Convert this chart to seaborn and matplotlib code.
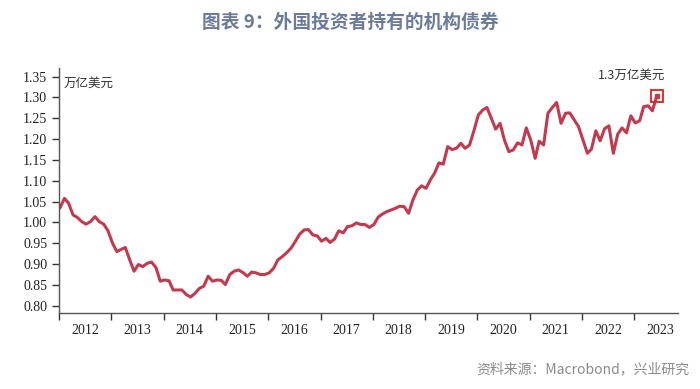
import matplotlib
matplotlib.use("Agg")
import matplotlib.pyplot as plt
import seaborn as sns
import pandas as pd

# monthly holdings, Jan 2012 - Jul 2023 (万亿美元)
holdings_2012_2017 = [
    1.035, 1.058, 1.046, 1.018, 1.012, 1.002, 0.996, 1.002, 1.014, 1.002, 0.996, 0.980,
    0.951, 0.930, 0.935, 0.940, 0.911, 0.883, 0.899, 0.894, 0.902, 0.905, 0.892, 0.859,
    0.862, 0.860, 0.838, 0.838, 0.838, 0.827, 0.821, 0.830, 0.842, 0.847, 0.871, 0.859,
    0.862, 0.861, 0.851, 0.875, 0.883, 0.886, 0.880, 0.871, 0.881, 0.879, 0.875, 0.875,
    0.879, 0.890, 0.910, 0.918, 0.927, 0.938, 0.954, 0.972, 0.982, 0.983, 0.970, 0.968,
    0.955, 0.962, 0.952, 0.960, 0.980, 0.975, 0.990,
]
holdings_2017_2023 = [
    0.992, 0.999, 0.995, 0.995, 0.988, 0.995, 1.013, 1.020, 1.026, 1.030, 1.034, 1.039,
    1.038, 1.022, 1.054, 1.078, 1.088, 1.082, 1.103, 1.118, 1.143, 1.140, 1.182, 1.175,
    1.178, 1.190, 1.178, 1.186, 1.220, 1.258, 1.270, 1.276, 1.250, 1.224, 1.238, 1.198,
    1.170, 1.174, 1.191, 1.186, 1.227, 1.198, 1.154, 1.195, 1.186, 1.262, 1.276, 1.288,
    1.238, 1.262, 1.263, 1.246, 1.230, 1.198, 1.166, 1.176, 1.220, 1.196, 1.225, 1.232,
    1.166, 1.212, 1.227, 1.215, 1.256, 1.239, 1.244, 1.278, 1.280, 1.268, 1.304,
]
values = holdings_2012_2017 + holdings_2017_2023
dates = pd.date_range("2012-01-01", periods=len(values), freq="MS") + pd.Timedelta(days=7)
df = pd.DataFrame({"date": dates, "value": values})

years = list(range(2012, 2024))
yticks = [0.80, 0.85, 0.90, 0.95, 1.00, 1.05, 1.10, 1.15, 1.20, 1.25, 1.30, 1.35]

title = "图表 9：外国投资者持有的机构债券"
unit_label = "万亿美元"
last_label = "1.3万亿美元"
source = "资料来源：Macrobond，兴业研究"

sns.set_style("ticks")
plt.rcParams["font.family"] = ["Liberation Serif", "Noto Sans CJK SC"]
cjk = ["Noto Sans CJK SC", "DejaVu Sans"]

fig = plt.figure(figsize=(7, 3.89), dpi=100)
ax = fig.add_axes([0.0843, 0.1946, 0.8843, 0.6298])

line_color = "#c23a4e"
sns.lineplot(data=df, x="date", y="value", ax=ax, color=line_color, linewidth=2.2)
last = df.iloc[-1]
ax.plot(last["date"], last["value"], marker="s", markersize=9, markerfacecolor="none",
        markeredgecolor="#e02020", markeredgewidth=1.3, zorder=5)
ax.plot(last["date"], last["value"], marker="s", markersize=2.5, color=line_color, zorder=6)

ax.set_xlim(pd.Timestamp("2012-01-01"), pd.Timestamp("2023-11-03"))
ax.set_ylim(0.782, 1.37)
ax.set_yticks(yticks)
ax.set_yticklabels([f"{v:.2f}" for v in yticks])

ax.set_xticks([pd.Timestamp(f"{y}-01-01") for y in years])
ax.set_xticklabels([])
ax.set_xticks([pd.Timestamp(f"{y}-07-01") for y in years], minor=True)
ax.set_xticklabels([str(y) for y in years], minor=True)
ax.tick_params(axis="x", which="major", length=5, width=1, color="#333333", direction="out")
ax.tick_params(axis="x", which="minor", length=0, pad=8, labelsize=10, labelcolor="#222222")
ax.tick_params(axis="y", length=5, width=1, color="#333333", labelsize=10, labelcolor="#222222")

ax.set_xlabel("")
ax.set_ylabel("")
for side in ["top", "right"]:
    ax.spines[side].set_visible(False)
for side in ["left", "bottom"]:
    ax.spines[side].set_color("#555555")
    ax.spines[side].set_linewidth(1.0)

ax.text(0.008, 0.965, unit_label, transform=ax.transAxes, fontsize=9, family=cjk,
        color="#333333", ha="left", va="top")
ax.annotate(last_label, xy=(last["date"], last["value"]), xytext=(6, 10),
            textcoords="offset points", ha="right", va="bottom", fontsize=9,
            family=cjk, color="#333333")

fig.text(0.5, 0.943, title, ha="center", va="center", fontsize=13.5, family=cjk,
         fontweight="semibold", color="#6b7b99")
fig.text(0.985, 0.05, source, ha="right", va="center", fontsize=10, family=cjk,
         color="#8a8a8a")

fig.savefig("out.png", dpi=100)
